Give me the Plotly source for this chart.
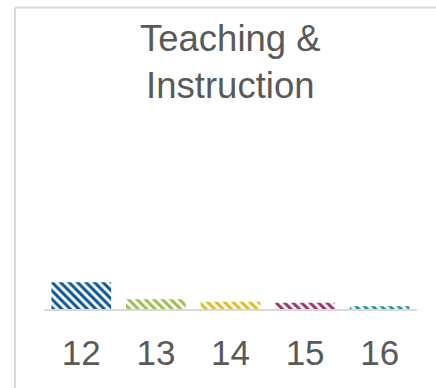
import plotly.graph_objects as go

# Teaching & Instruction share by year
years = ["12", "13", "14", "15", "16"]
values = [15.0, 5.5, 4.0, 3.5, 1.5]
bar_colors = ["#0a5499", "#9bbb4f", "#e3b824", "#9c2f5f", "#1d8c9e"]
title_text = "Teaching &<br>Instruction"

FONT = "Liberation Sans, Arial, sans-serif"
GRAY_TEXT = "#595959"
FRAME = "#d9d9d9"

fig = go.Figure(
    go.Bar(
        x=years,
        y=values,
        marker=dict(
            color="white",
            line=dict(width=0),
            pattern=dict(
                shape="\\",
                fgcolor=bar_colors,
                bgcolor="white",
                fgopacity=1,
                size=6,
                solidity=0.5,
                fillmode="replace",
            ),
        ),
        hoverinfo="skip",
    )
)

W, H = 436, 388
L, R, T, B = 44, 19, 130, 79
pw, ph = W - L - R, H - T - B


def px_to_paper_x(px):
    return (px - L) / pw


def px_to_paper_y(py):
    return (H - B - py) / ph


# light frame along the left and top edges of the card
fig.add_shape(type="line", xref="paper", yref="paper",
              x0=px_to_paper_x(15), x1=px_to_paper_x(440),
              y0=px_to_paper_y(7.5), y1=px_to_paper_y(7.5),
              line=dict(color=FRAME, width=2))
fig.add_shape(type="line", xref="paper", yref="paper",
              x0=px_to_paper_x(15), x1=px_to_paper_x(15),
              y0=px_to_paper_y(7.5), y1=px_to_paper_y(400),
              line=dict(color=FRAME, width=2))

fig.add_annotation(
    text=title_text, xref="paper", yref="paper",
    x=0.5, y=px_to_paper_y(16), xanchor="center", yanchor="top",
    showarrow=False, align="center",
    font=dict(family=FONT, size=36.5, color=GRAY_TEXT),
)

fig.update_layout(
    width=W, height=H,
    margin=dict(l=L, r=R, t=T, b=B, pad=0, autoexpand=False),
    paper_bgcolor="white", plot_bgcolor="white",
    bargap=0.2,
    showlegend=False,
    xaxis=dict(
        showline=True, linecolor=FRAME, linewidth=2,
        showgrid=False, zeroline=False, ticks="",
        automargin=False,
        ticklabelstandoff=12,
        tickfont=dict(family=FONT, size=35, color=GRAY_TEXT),
        fixedrange=True,
    ),
    yaxis=dict(range=[0, 100], visible=False, fixedrange=True, automargin=False),
)

fig.write_html("out.html", config={"displayModeBar": False})
